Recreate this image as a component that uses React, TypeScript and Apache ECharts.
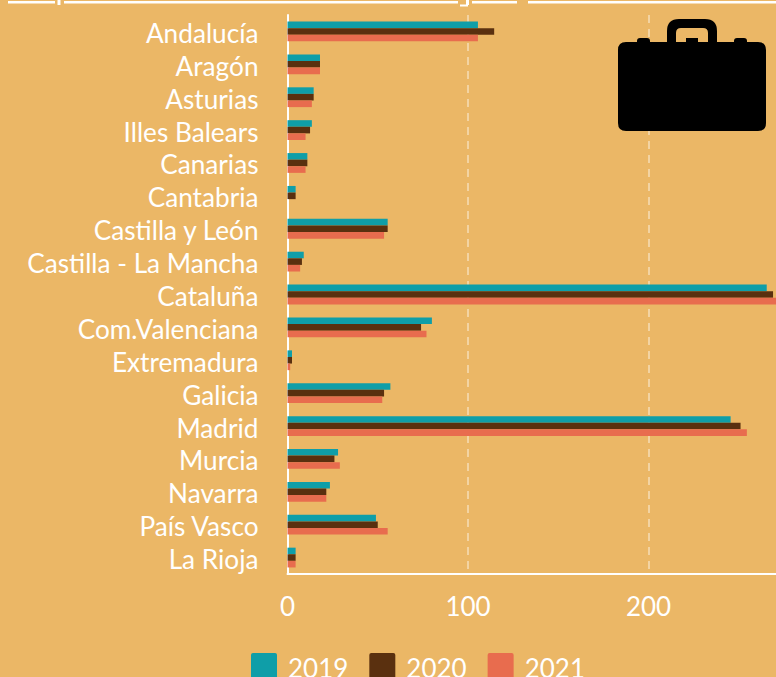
import React, { useEffect, useRef } from "react";
import * as echarts from "echarts";

const categories = ["Andalucía","Aragón","Asturias","Illes Balears","Canarias","Cantabria","Castilla y León","Castilla - La Mancha","Cataluña","Com.Valenciana","Extremadura","Galicia","Madrid","Murcia","Navarra","País Vasco","La Rioja"];
const values2019 = [105.5,18,14.5,13.5,11,4.5,55.5,9,265.5,80,2.5,57,245.5,28,23.5,49,4.5];
const values2020 = [114.5,18,14.5,12.5,11,4.5,55.5,8,269,74,2.5,53.5,251,26,21.5,50,4.5];
const values2021 = [105.5,18,13.5,10,10,0,53.5,7,272.5,77,1.5,52.5,254.5,29,21.5,55.5,4.5];
const xTicks = [0, 100, 200];

const BG = "#EBB766";
const FONT = "Lato";
const SWATCH = "path://M2 0H24Q26 0 26 2V24Q26 26 24 26H2Q0 26 0 24V2Q0 0 2 0Z";
const CASE_D =
  "M626 42 H637 V41 Q637 38 640 38 H647 Q650 38 650 41 V42 H734 V41 Q734 38 737 38 H744 Q747 38 747 41 V42 H758 Q766 42 766 50 V123 Q766 131 758 131 H626 Q618 131 618 123 V50 Q618 42 626 42 Z " +
  "M667 43 V31 Q667 19 679 19 H705 Q717 19 717 31 V43 H708 V33 Q708 28 703 28 H681 Q676 28 676 33 V43 Z " +
  "M686 43 V38 H698 V43 Z";
echarts.graphic.registerShape("briefcase", echarts.graphic.extendPath(CASE_D, {}));

export default function App() {
  const ref = useRef<HTMLDivElement>(null);
  useEffect(() => {
    document.body.style.margin = "0";
    document.body.style.background = BG;
    const chart = echarts.init(ref.current!, null, { renderer: "svg" });
    const bar = (name: string, data: number[], color: string) => ({
      name, type: "bar", data, barWidth: 6.6, barGap: "0%", itemStyle: { color },
    });
    const white = { fill: "#fff" };
    chart.setOption({
      animation: false,
      backgroundColor: BG,
      textStyle: { fontFamily: FONT },
      grid: { left: 287.5, top: 15, width: 541.5, height: 559, containLabel: false },
      legend: {
        left: 246, top: 648, itemWidth: 26, itemHeight: 26, itemGap: 21, icon: SWATCH,
        formatter: (name: string) => `{a|${name}}`,
        textStyle: {
          color: "#fff", fontFamily: FONT,
          rich: { a: { color: "#fff", fontSize: 26, fontFamily: FONT, padding: [4, 0, 0, 6] } },
        },
        data: ["2019", "2020", "2021"],
      },
      xAxis: {
        type: "value", min: 0, max: 300, interval: 100,
        axisLine: { show: true, lineStyle: { color: "#fff", width: 2 } },
        axisTick: { show: false },
        axisLabel: {
          color: "#fff", fontSize: 26, fontFamily: FONT, margin: 19,
          formatter: (v: number) => (xTicks.includes(v) ? String(v) : ""),
        },
        splitLine: {
          show: true,
          lineStyle: { color: "rgba(255,255,255,0.4)", width: 2, type: [8, 6] },
        },
      },
      yAxis: {
        type: "category", inverse: true, data: categories,
        axisLine: { show: true, lineStyle: { color: "#fff", width: 2 } },
        axisTick: { show: false },
        axisLabel: {
          color: "#fff", fontFamily: FONT, margin: 29, interval: 0,
          formatter: (v: string) => `{a|${v}}`,
          rich: { a: { color: "#fff", fontSize: 26.2, fontFamily: FONT, padding: [3, 0, 0, 0] } },
        },
      },
      series: [
        bar("2019", values2019, "#0F9EA8"),
        bar("2020", values2020, "#5A300F"),
        bar("2021", values2021, "#E86C4E"),
      ],
      graphic: [
        { type: "briefcase", z: 10, style: { fill: "#000" } },
        { type: "rect", shape: { x: 8, y: 1, width: 47, height: 2.6 }, style: white },
        { type: "rect", shape: { x: 64, y: 1, width: 394, height: 2.6 }, style: white },
        { type: "rect", shape: { x: 472, y: 1, width: 45, height: 2.6 }, style: white },
        { type: "rect", shape: { x: 528, y: 1, width: 248, height: 2.6 }, style: white },
        { type: "rect", shape: { x: 57.5, y: 0, width: 3, height: 5 }, style: white },
        { type: "rect", shape: { x: 466, y: 0, width: 3, height: 5 }, style: white },
        { type: "rect", shape: { x: 460, y: 4.5, width: 8, height: 2 }, style: white },
      ],
    });
    return () => chart.dispose();
  }, []);
  return (
    <div style={{ position: "absolute", left: 0, top: 0, width: 776, height: 677, overflow: "hidden" }}>
      <div ref={ref} style={{ width: 860, height: 677 }} />
    </div>
  );
}
